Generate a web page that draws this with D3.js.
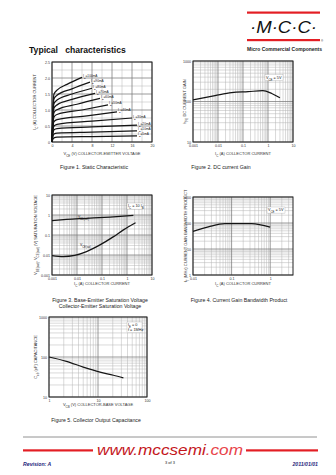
<!DOCTYPE html>
<html><head><meta charset="utf-8">
<script src="https://cdn.jsdelivr.net/npm/d3@7"></script>
<style>
html,body{margin:0;padding:0;background:#fff;}
svg{display:block;font-family:"Liberation Sans",Arial,sans-serif;}
</style>
</head><body>
<svg id="c" width="336" height="475"></svg>
<script>
// ---------------- DATA ----------------
// Figure 1: Static characteristic (Vce in V, Ic in A), one curve per base current
const f1Labels = ["I{B}=100mA","I{B}=90mA","I{B}=80mA","I{B}=70mA","I{B}=60mA","I{B}=50mA","I{B}=40mA","I{B}=30mA","I{B}=20mA","I{B}=10mA","I{B}=5mA"];
const f1Curves = [
  [[0,0],[0.15,0.9],[0.4,1.5],[1,1.62],[3,1.8],[6,2.02]],
  [[0,0],[0.15,0.8],[0.4,1.35],[1,1.46],[4,1.66],[7.6,1.87]],
  [[0,0],[0.15,0.72],[0.4,1.2],[1,1.31],[4,1.5],[8,1.68]],
  [[0,0],[0.15,0.64],[0.4,1.06],[1,1.16],[4,1.33],[8.6,1.52]],
  [[0,0],[0.15,0.55],[0.4,0.92],[1,1.01],[5,1.18],[9.6,1.36]],
  [[0,0],[0.15,0.47],[0.4,0.78],[1,0.86],[6,1.0],[11.2,1.16]],
  [[0,0],[0.15,0.39],[0.4,0.64],[1,0.70],[7,0.82],[13,0.94]],
  [[0,0],[0.15,0.30],[0.4,0.50],[1,0.55],[8,0.65],[16,0.75]],
  [[0,0],[0.15,0.23],[0.4,0.38],[1,0.42],[8,0.47],[17,0.53]],
  [[0,0],[0.15,0.15],[0.4,0.25],[1,0.28],[8,0.31],[17,0.35]],
  [[0,0],[0.15,0.08],[0.4,0.13],[1,0.15],[8,0.17],[17,0.19]]
];
const f1XTicks = [0,4,8,12,16,20];
const f1YTicks = [0,0.5,1.0,1.5,2.0,2.5];
const f1YTickLabels = ["0","0.5","1.0","1.5","2.0","2.5"];

// Figure 2: DC current gain
const f2Ic  = [0.001, 0.0076, 0.035, 0.16, 0.62, 1.41, 3.0];
const f2Hfe = [109, 139, 165, 175, 185, 158, 124];
const f2XTicks = [0.001,0.01,0.1,1,10];
const f2XTickLabels = ["0.001","0.01","0.1","1","10"];
const f2YTicks = [10,100,1000];

// Figure 3: saturation voltages
const f3IcBe = [0.001, 0.0038, 0.024, 0.21, 1.8];
const f3Vbe  = [0.53, 0.60, 0.68, 0.79, 0.95];
const f3IcCe = [0.001, 0.0028, 0.0081, 0.024, 0.083, 0.29, 0.72, 2.2];
const f3Vce  = [0.0093, 0.0083, 0.0095, 0.0147, 0.032, 0.083, 0.18, 0.41];
const f3XTicks = [0.001,0.01,0.1,1,10];
const f3XTickLabels = ["0.001","0.01","0.1","1","10"];
const f3YTicks = [0.001,0.01,0.1,1,10];
const f3YTickLabels = ["0.001","0.01","0.1","1","10"];

// Figure 4: current gain bandwidth product
const f4Ic = [0.01, 0.025, 0.067, 0.33, 1.0];
const f4Ft = [48, 71, 95, 95, 69];
const f4XTicks = [0.01,0.1,1];
const f4XTickLabels = ["0.01","0.1","1"];
const f4YTicks = [1,10,100,1000];

// Figure 5: collector output capacitance
const f5Vcb = [1, 2.27, 5, 11, 20.6, 33];
const f5Cob = [100, 78, 56, 42, 35, 30];
const f5XTicks = [1,10,100];
const f5YTicks = [10,100,1000];

// ---------------- DRAWING ----------------
const svg = d3.select("#c");
const FONT = '"Liberation Sans",Arial,sans-serif';

function rich(t, s){
  const re = /([^{}]+)|\{([^}]*)\}/g; let m;
  while((m = re.exec(s))){
    if(m[1]!==undefined) t.append("tspan").text(m[1]);
    else t.append("tspan").attr("baseline-shift","sub").attr("font-size","75%").text(m[2]);
  }
  return t;
}

function logGrid(dom){
  const out=[]; const e0=Math.floor(Math.log10(dom[0])-1e-9), e1=Math.ceil(Math.log10(dom[1])+1e-9);
  for(let e=e0;e<=e1;e++) for(let k=1;k<10;k++){ const v=k*Math.pow(10,e); if(v>=dom[0]*0.999 && v<=dom[1]*1.001) out.push({v, major:k===1}); }
  return out;
}

function panel(c){
  const g = svg.append("g");
  const x = (c.xlog? d3.scaleLog(): d3.scaleLinear()).domain(c.xd).range([c.x0,c.x1]);
  const y = (c.ylog? d3.scaleLog(): d3.scaleLinear()).domain(c.yd).range([c.y1,c.y0]);
  let xg, yg;
  if(c.xlog) xg = logGrid(c.xd); else xg = d3.range(c.xd[0], c.xd[1]+1e-9, c.xMinor).map(v=>({v, major: Math.abs((v/c.xMajor)-Math.round(v/c.xMajor))<1e-6}));
  if(c.ylog) yg = logGrid(c.yd); else yg = d3.range(c.yd[0], c.yd[1]+1e-9, c.yMinor).map(v=>({v, major: Math.abs((v/c.yMajor)-Math.round(v/c.yMajor))<1e-6}));
  const grid = g.append("g");
  [false,true].forEach(mj=>{
    grid.selectAll(null).data(xg.filter(d=>d.major===mj)).enter().append("line")
      .attr("x1",d=>x(d.v)).attr("x2",d=>x(d.v)).attr("y1",c.y0).attr("y2",c.y1)
      .attr("stroke", mj?"#7a7a7a":"#b4b4b4").attr("stroke-width", mj?0.75:0.5);
    grid.selectAll(null).data(yg.filter(d=>d.major===mj)).enter().append("line")
      .attr("y1",d=>y(d.v)).attr("y2",d=>y(d.v)).attr("x1",c.x0).attr("x2",c.x1)
      .attr("stroke", mj?"#7a7a7a":"#b4b4b4").attr("stroke-width", mj?0.75:0.5);
  });
  g.append("rect").attr("x",c.x0).attr("y",c.y0).attr("width",c.x1-c.x0).attr("height",c.y1-c.y0)
    .attr("fill","none").attr("stroke","#222").attr("stroke-width",1);
  const xa = d3.axisBottom(x).tickValues(c.xTicks).tickSize(0).tickPadding(2.5)
    .tickFormat((d,i)=>c.xTickLabels? c.xTickLabels[i] : String(d));
  const gx = g.append("g").attr("transform",`translate(0,${c.y1})`).call(xa);
  const ya = d3.axisLeft(y).tickValues(c.yTicks).tickSize(0).tickPadding(2)
    .tickFormat((d,i)=>c.yTickLabels? c.yTickLabels[i] : String(d));
  const gy = g.append("g").attr("transform",`translate(${c.x0},0)`).call(ya);
  [gx,gy].forEach(a=>{ a.select(".domain").remove(); a.selectAll("text").attr("font-size",3.6).attr("font-family",FONT).attr("fill","#333"); });
  gx.selectAll("text").attr("dy","0.7em");
  rich(g.append("text").attr("x",(c.x0+c.x1)/2).attr("y",c.xTitleY).attr("text-anchor","middle")
    .attr("font-size",4).attr("fill","#333"), c.xTitle);
  rich(g.append("text").attr("transform",`translate(${c.yTitleX},${(c.y0+c.y1)/2}) rotate(-90)`)
    .attr("text-anchor","middle").attr("font-size",4).attr("fill","#333"), c.yTitle);
  c.caption.forEach((s,i)=>{
    g.append("text").attr("x",c.capX).attr("y",c.capY+i*6).attr("text-anchor","middle")
      .attr("font-size",5.2).attr("fill","#222").text(s);
  });
  return {g,x,y};
}

function drawLine(p, xs, ys){
  const line = d3.line().x(d=>p.x(d[0])).y(d=>p.y(d[1])).curve(d3.curveMonotoneX);
  p.g.append("path").attr("d", line(xs.map((v,i)=>[v, ys[i]])))
    .attr("fill","none").attr("stroke","#151515").attr("stroke-width",1.25);
}
function note(p, xpx, ypx, lines, w){
  const h = lines.length*4.6+1.5;
  p.g.append("rect").attr("x",xpx-1).attr("y",ypx-4).attr("width",w).attr("height",h).attr("fill","#fff").attr("stroke","#999").attr("stroke-width",0.3);
  lines.forEach((s,i)=>rich(p.g.append("text").attr("x",xpx).attr("y",ypx+i*4.6).attr("font-size",3.8).attr("fill","#222"), s));
}

// ----- Header -----
svg.append("text").attr("x",29).attr("y",53).attr("font-weight","bold").attr("font-size",8.6)
  .attr("fill","#111").style("white-space","pre").text("Typical   characteristics");
svg.append("rect").attr("x",247).attr("y",11.5).attr("width",73).attr("height",2.2).attr("fill","#e31e24");
svg.append("text").attr("x",283.5).attr("y",33).attr("text-anchor","middle").attr("font-style","italic")
  .attr("font-size",17).attr("fill","#111").attr("textLength",67).attr("lengthAdjust","spacingAndGlyphs").text("·M·C·C·");
svg.append("rect").attr("x",247).attr("y",39).attr("width",73).attr("height",2.2).attr("fill","#e31e24");
svg.append("text").attr("x",321).attr("y",41.5).attr("font-size",3).attr("fill","#111").text("®");
svg.append("text").attr("x",247).attr("y",50.5).attr("font-weight","bold").attr("font-size",5)
  .attr("fill","#222").attr("textLength",75).attr("lengthAdjust","spacingAndGlyphs").text("Micro Commercial Components");

// ----- Figure 1 -----
const p1 = panel({x0:52,x1:152,y0:62,y1:142, xd:[0,20], yd:[0,2.5], xMinor:2, xMajor:4, yMinor:0.25, yMajor:0.5,
  xTicks:f1XTicks, yTicks:f1YTicks, yTickLabels:f1YTickLabels,
  xTitle:"V{CE} (V) COLLECTOR-EMITTER VOLTAGE", xTitleY:155, yTitle:"I{C} (A) COLLECTOR CURRENT", yTitleX:36,
  caption:["Figure 1. Static Characteristic"], capX:94, capY:169});
f1Curves.forEach((cv,i)=>{
  drawLine(p1, cv.map(d=>d[0]), cv.map(d=>d[1]));
  const e = cv[cv.length-1];
  rich(p1.g.append("text").attr("x",p1.x(e[0])+1).attr("y",p1.y(e[1])-0.5).attr("font-size",3.2).attr("fill","#222"), f1Labels[i]);
});

// ----- Figure 2 -----
const p2 = panel({x0:193,x1:293,y0:61,y1:142, xlog:true, ylog:true, xd:[0.001,10], yd:[10,1000],
  xTicks:f2XTicks, xTickLabels:f2XTickLabels, yTicks:f2YTicks,
  xTitle:"I{C} (A) COLLECTOR CURRENT", xTitleY:155, yTitle:"h{FE} DC CURRENT GAIN", yTitleX:186,
  caption:["Figure 2. DC current Gain"], capX:221, capY:169});
drawLine(p2, f2Ic, f2Hfe);
note(p2, 266, 78.5, ["V{CE} = 5V"], 18);

// ----- Figure 3 -----
const p3 = panel({x0:52,x1:152,y0:195,y1:275, xlog:true, ylog:true, xd:[0.001,10], yd:[0.001,10],
  xTicks:f3XTicks, xTickLabels:f3XTickLabels, yTicks:f3YTicks, yTickLabels:f3YTickLabels,
  xTitle:"I{C} (A) COLLECTOR CURRENT", xTitleY:285, yTitle:"V{BE(sat)}, V{CE(sat)} (V) SATURATION VOLTAGE", yTitleX:37,
  caption:["Figure 3. Base-Emitter Saturation Voltage","Collector-Emitter Saturation Voltage"], capX:100, capY:302});
drawLine(p3, f3IcBe, f3Vbe);
drawLine(p3, f3IcCe, f3Vce);
rich(p3.g.append("text").attr("x",78).attr("y",218).attr("font-size",3.4).attr("fill","#222"), "V{BE(sat)}");
rich(p3.g.append("text").attr("x",80).attr("y",246).attr("font-size",3.4).attr("fill","#222"), "V{CE(sat)}");
note(p3, 128, 207, ["I{C} = 10 I{B}"], 16);

// ----- Figure 4 -----
const p4 = panel({x0:193,x1:293,y0:197,y1:275, xlog:true, ylog:true, xd:[0.01,3.9], yd:[1,1000],
  xTicks:f4XTicks, xTickLabels:f4XTickLabels, yTicks:f4YTicks,
  xTitle:"I{C} (A) COLLECTOR CURRENT", xTitleY:285, yTitle:"f{T} (MHz) CURRENT GAIN BANDWIDTH PRODUCT", yTitleX:187,
  caption:["Figure 4. Current Gain Bandwidth Product"], capX:239, capY:302});
drawLine(p4, f4Ic, f4Ft);
note(p4, 268, 211, ["V{CE} = 5V"], 18);

// ----- Figure 5 -----
const p5 = panel({x0:49,x1:147,y0:317,y1:397, xlog:true, ylog:true, xd:[1,100], yd:[10,1000],
  xTicks:f5XTicks, yTicks:f5YTicks,
  xTitle:"V{CB} (V) COLLECTOR-BASE VOLTAGE", xTitleY:406, yTitle:"C{ob} (pF) CAPACITANCE", yTitleX:37,
  caption:["Figure 5. Collector Output Capacitance"], capX:96, capY:422});
drawLine(p5, f5Vcb, f5Cob);
note(p5, 128, 326, ["I{E} = 0","f = 1MHz"], 15);

// ----- Footer -----
svg.append("line").attr("x1",23).attr("x2",317).attr("y1",437).attr("y2",437).attr("stroke","#777").attr("stroke-width",0.8);
svg.append("rect").attr("x",23).attr("y",449.3).attr("width",70).attr("height",2.2).attr("fill","#e31e24");
svg.append("rect").attr("x",246).attr("y",449.3).attr("width",72).attr("height",2.2).attr("fill","#e31e24");
const url = svg.append("text").attr("x",97).attr("y",455).attr("font-style","italic").attr("font-size",14)
  .attr("textLength",146).attr("lengthAdjust","spacingAndGlyphs");
url.append("tspan").attr("fill","#c4161c").text("www.mccsemi");
url.append("tspan").attr("fill","#e8444a").text(".com");
svg.append("text").attr("x",23).attr("y",466).attr("font-weight","bold").attr("font-style","italic")
  .attr("font-size",5.2).attr("fill","#1c1c7a").text("Revision: A");
svg.append("text").attr("x",318).attr("y",466).attr("text-anchor","end").attr("font-weight","bold").attr("font-style","italic")
  .attr("font-size",5.2).attr("fill","#1c1c7a").text("2011/01/01");
svg.append("text").attr("x",170).attr("y",463.5).attr("text-anchor","middle").attr("font-size",4).attr("fill","#222").text("3 of 3");
</script>
</body></html>
